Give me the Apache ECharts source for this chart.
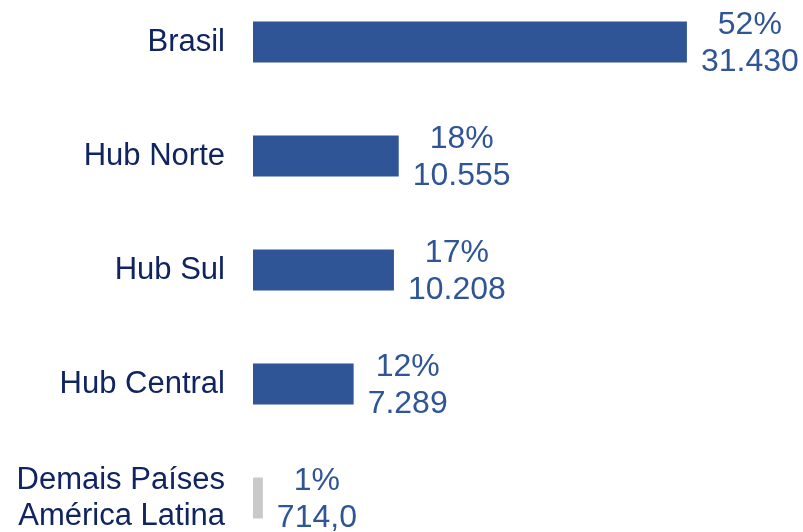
<!DOCTYPE html>
<html>
<head>
<meta charset="UTF-8">
<title></title>
<script src="https://cdn.jsdelivr.net/npm/echarts@6/dist/echarts.min.js"></script>
<style>
  html, body { margin: 0; padding: 0; background: #fff; }
</style>
</head>
<body>
<div id="chart" style="width: 803px;height:532px;"></div>
<script type="text/javascript">
var categories = ['Brasil', 'Hub Norte', 'Hub Sul', 'Hub Central', 'Demais Países\nAmérica Latina'];
var values = [31430, 10555, 10208, 7289, 714];
var percents = ['52%', '18%', '17%', '12%', '1%'];
var valueTexts = ['31.430', '10.555', '10.208', '7.289', '714,0'];

var labelFont = '32px "Liberation Sans", Arial, sans-serif';
var ctx = document.createElement('canvas').getContext('2d');
ctx.font = labelFont;

// metade da largura do rótulo, para centralizar as duas linhas à direita da barra
function halfWidth(lines) {
    var w = 0;
    lines.forEach(function (s) { w = Math.max(w, ctx.measureText(s).width); });
    return w / 2;
}

var data = values.map(function (v, i) {
    return {
        value: v,
        itemStyle: { color: i === values.length - 1 ? '#c9c9c9' : '#2f5597' },
        label: { offset: [halfWidth([percents[i], valueTexts[i]]), 2] }
    };
});

var chart = echarts.init(document.getElementById('chart'));
chart.setOption({
    animation: false,
    grid: {
        left: 253, top: -15, width: 497, height: 570,
        containLabel: false,
        outerBoundsMode: 'none'
    },
    xAxis: {
        type: 'value',
        min: 0,
        max: 36000,
        show: false
    },
    yAxis: {
        type: 'category',
        inverse: true,
        data: categories,
        axisLine: { show: false },
        axisTick: { show: false },
        splitLine: { show: false },
        axisLabel: {
            margin: 28,
            color: '#0f2461',
            fontSize: 31,
            lineHeight: 36,
            fontFamily: '"Liberation Sans", Arial, sans-serif'
        }
    },
    series: [{
        type: 'bar',
        barWidth: 41,
        data: data,
        label: {
            show: true,
            position: 'right',
            distance: 14,
            align: 'center',
            color: '#2f5597',
            fontSize: 32,
            lineHeight: 37,
            fontFamily: '"Liberation Sans", Arial, sans-serif',
            formatter: function (p) {
                return percents[p.dataIndex] + '\n' + valueTexts[p.dataIndex];
            }
        }
    }]
});
</script>
</body>
</html>
